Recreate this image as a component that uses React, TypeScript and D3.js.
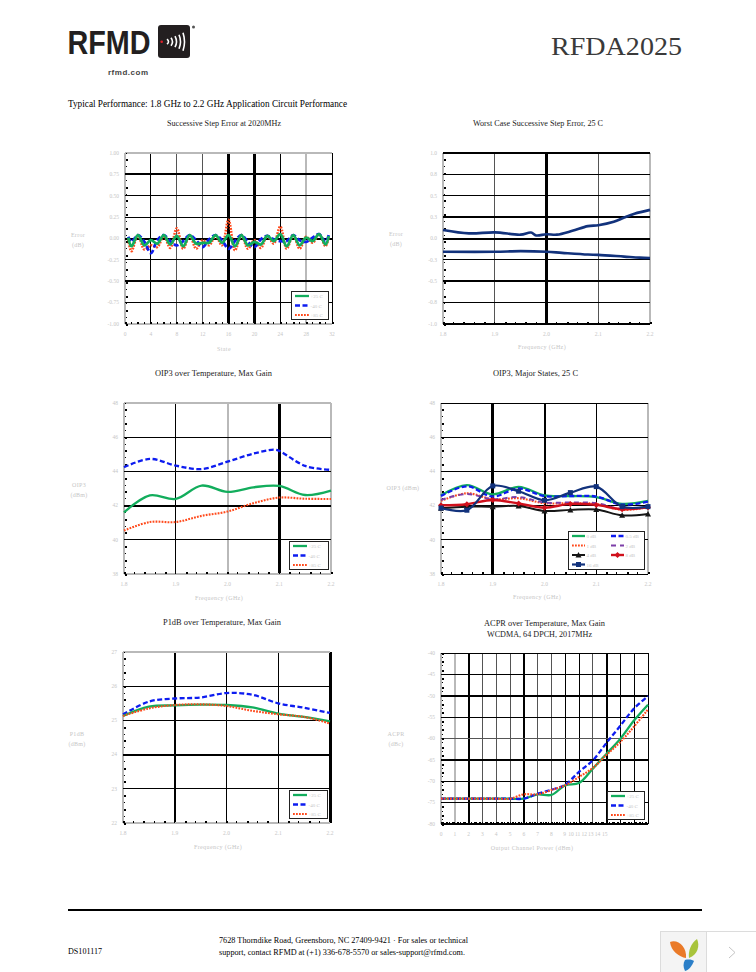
import React from "react";
import * as d3 from "d3";

// ---------- Chart 1: Successive Step Error at 2020MHz ----------
const stateX = [0.5, 1, 2, 3, 4, 5, 6, 7, 8, 9, 10, 11, 12, 13, 14, 15, 16, 17, 18, 19, 20, 21, 22, 23, 24, 25, 26, 27, 28, 29, 30, 31, 31.5];
const step25 = [0.01, -0.09, 0.04, -0.08, -0.02, -0.06, 0.04, -0.07, 0.03, -0.09, 0.04, -0.06, -0.05, -0.05, 0.04, -0.05, 0.04, -0.09, 0.04, -0.08, -0.04, -0.07, 0.03, -0.03, 0.05, -0.09, 0.04, -0.08, 0.01, -0.03, 0.05, -0.07, 0.03];
const stepM40 = [0.02, -0.04, 0.04, -0.04, -0.17, -0.02, 0.04, -0.03, -0.08, -0.03, 0.04, -0.02, -0.1, -0.01, 0.04, -0.02, -0.12, -0.03, 0.04, -0.04, -0.1, -0.01, 0.03, -0.01, -0.03, -0.03, 0.04, -0.02, -0.04, 0.01, 0.05, -0.04, 0.04];
const step85 = [-0.01, -0.15, 0.04, -0.13, -0.08, -0.1, 0.03, -0.11, 0.12, -0.12, 0.04, -0.12, -0.02, -0.08, 0.03, -0.08, 0.22, -0.14, 0.04, -0.12, -0.02, -0.11, 0.03, -0.06, 0.14, -0.12, 0.04, -0.12, 0.02, -0.05, 0.05, -0.09, 0.02];

// ---------- Chart 2: Worst Case Successive Step Error ----------
const worstHiX = [1.8, 1.85, 1.9, 1.95, 1.97, 1.98, 2.0, 2.02, 2.05, 2.08, 2.1, 2.13, 2.15, 2.17, 2.2];
const worstHi = [0.1, 0.06, 0.072, 0.045, 0.07, 0.036, 0.05, 0.045, 0.09, 0.145, 0.155, 0.195, 0.245, 0.29, 0.335];
const worstLoX = [1.8, 1.9, 1.95, 2.0, 2.03, 2.08, 2.1, 2.15, 2.18, 2.2];
const worstLo = [-0.155, -0.155, -0.148, -0.155, -0.168, -0.188, -0.192, -0.212, -0.224, -0.228];

// ---------- Chart 3: OIP3 over Temperature ----------
const freq9 = [1.8, 1.85, 1.9, 1.95, 2.0, 2.05, 2.1, 2.15, 2.2];
const oipTempX = [1.8, 1.85, 1.9, 1.95, 2.0, 2.05, 2.09, 2.1, 2.15, 2.2];
const oipM40 = [44.24, 44.73, 44.34, 44.14, 44.57, 45.04, 45.27, 45.2, 44.32, 44.09];
const oip25 = [41.6, 42.6, 42.39, 43.17, 42.8, 43.07, 43.15, 42.62, 42.88];
const oip85 = [40.54, 41.04, 41.04, 41.4, 41.65, 42.14, 42.47, 42.4, 42.39];

// ---------- Chart 4: OIP3, Major States ----------
const major0 = [42.6, 43.2, 42.66, 43.09, 42.6, 42.56, 42.5, 42.1, 42.27];
const major05 = [42.56, 43.13, 42.53, 43.0, 42.56, 42.56, 42.53, 42.06, 42.23];
const major1 = [42.27, 42.72, 42.37, 42.43, 42.14, 42.14, 42.1, 41.75, 41.9];
const major2 = [42.33, 42.68, 42.37, 42.5, 42.18, 42.18, 42.14, 41.8, 41.9];
const major4 = [41.84, 41.94, 41.94, 41.98, 41.69, 41.75, 41.77, 41.43, 41.51];
const major8 = [42.02, 42.08, 42.33, 42.12, 41.88, 42.1, 42.04, 41.79, 41.9];
const major16 = [41.86, 41.73, 43.15, 42.84, 42.31, 42.76, 43.11, 41.94, 41.94];

// ---------- Chart 5: P1dB over Temperature ----------
const p1M40 = [25.17, 25.55, 25.64, 25.67, 25.8, 25.75, 25.5, 25.37, 25.22];
const p125 = [25.13, 25.4, 25.44, 25.46, 25.45, 25.38, 25.2, 25.1, 24.97];
const p185 = [25.13, 25.35, 25.45, 25.47, 25.42, 25.28, 25.18, 25.1, 24.91];

// ---------- Chart 6: ACPR over Temperature ----------
const powerX = [0, 1, 2, 3, 4, 5, 6, 7, 8, 9, 10, 11, 12, 13, 14, 15];
const acpr25 = [-74.07, -74.07, -74.07, -74.07, -74.07, -74.07, -74.07, -73.06, -73.2, -70.95, -70.4, -67.05, -63.55, -60.04, -55.75, -52.1];
const acprM40 = [-74.07, -74.07, -74.07, -74.07, -74.07, -74.07, -74.07, -72.9, -72, -70.8, -67.8, -65.1, -61, -57, -52.95, -50.1];
const acpr85 = [-74.07, -74.07, -74.07, -74.07, -74.07, -74.07, -73.06, -73.06, -72.05, -70.95, -69, -66.9, -63.8, -60.8, -57.15, -53.2];

// ---------- Tick labels ----------
const stateTicks = [0, 4, 8, 12, 16, 20, 24, 28, 32];
const stepTicks = [1, 0.75, 0.5, 0.25, 0, -0.25, -0.5, -0.75, -1];
const freqTicks = [1.8, 1.9, 2.0, 2.1, 2.2];
const oipTicks = [48, 46, 44, 42, 40, 38];
const p1Ticks = [27, 26, 25, 24, 23, 22];
const acprTicks = [-40, -45, -50, -55, -60, -65, -70, -75, -80];
const powerLabels = ["0", "1", "2", "3", "4", "5", "6", "7", "8", "9", "10", "11", "12", "13", "14", "15"];
const powerLabelAt = [0, 1, 2, 3, 4, 5, 6, 7, 8, 8.95, 9.42, 9.9, 10.38, 10.86, 11.34, 11.86];

const GREEN = "#12ad5c";
const BLUE = "#0d1cf0";
const RED = "#ff4a1c";
const NAVY = "#12327c";
const TXT = "#c6c6c6";
const FONT = "'Liberation Serif', serif";

const styles: any = {
  green: { stroke: GREEN, w: 2.3 },
  blue: { stroke: BLUE, w: 2.3, dash: "5 2.5" },
  red: { stroke: RED, w: 2.1, dash: "1.8 1.2" },
  purple: { stroke: "#7d3fa8", w: 2, dash: "5 4" },
  black: { stroke: "#161616", w: 2, marker: "tri" },
  crimson: { stroke: "#d0101c", w: 2.4, marker: "dia" },
  navy: { stroke: NAVY, w: 2.2, marker: "sq" },
  navyPlain: { stroke: NAVY, w: 2.6 },
};

// grid weights: b=black 1, B=black 2, T=black 3, d=dark grey, g=light grey
const weight: any = {
  b: { c: "#000", w: 1 },
  B: { c: "#000", w: 2 },
  T: { c: "#000", w: 3 },
  d: { c: "#555", w: 1 },
  g: { c: "#b9b9b9", w: 2 },
};

function Marker({ kind, x, y, color }: any) {
  if (kind === "tri") return <path d={`M${x - 3},${y + 2.5}L${x},${y - 3}L${x + 3},${y + 2.5}Z`} fill={color} />;
  if (kind === "dia") return <path d={`M${x - 3},${y}L${x},${y - 3}L${x + 3},${y}L${x},${y + 3}Z`} fill={color} />;
  if (kind === "sq") return <rect x={x - 2.5} y={y - 2.5} width={5} height={5} fill={color} />;
  return null;
}

function Chart({ box, xDomain, yDomain, xTicks, yTicks, xFmt, yFmt, xGrid, yGrid, series, curve, legend, xMinor, yMinor, xTickLabels, xTitle, xTitlePos, yTitle, titles, lineScale = 1 }: any) {
  const [l, t, r, b] = box;
  const x = d3.scaleLinear().domain(xDomain).range([l, r]);
  const y = d3.scaleLinear().domain(yDomain).range([b, t]);
  const ln = (xs: number[]) =>
    d3
      .line<number>()
      .x((_, i) => x(xs[i]))
      .y((d) => y(d))
      .curve(curve);
  const xMinorVals = d3.range(xMinor + 1).map((i) => xDomain[0] + ((xDomain[1] - xDomain[0]) * i) / xMinor);
  const yMinorVals = d3.range(yMinor + 1).map((i) => yDomain[0] + ((yDomain[1] - yDomain[0]) * i) / yMinor);
  return (
    <g fontFamily={FONT}>
      {titles.map((s: any, i: number) => (
        <text key={i} x={s.x} y={s.y} textLength={s.w} lengthAdjust="spacingAndGlyphs" fontSize={7.5} fill="#222">
          {s.t}
        </text>
      ))}
      {xTicks.map((v: number, i: number) => {
        const g = weight[xGrid[i]];
        return <line key={i} x1={x(v)} x2={x(v)} y1={t} y2={b} stroke={g.c} strokeWidth={g.w} shapeRendering="crispEdges" />;
      })}
      {yTicks.map((v: number, i: number) => {
        const g = weight[yGrid[i]];
        return <line key={i} x1={l} x2={r} y1={y(v)} y2={y(v)} stroke={g.c} strokeWidth={g.w} shapeRendering="crispEdges" />;
      })}
      {yMinorVals.map((v: number, i: number) => (
        <rect key={i} x={l + 1} y={y(v) - 0.5} width={i % 2 ? 1 : 2} height={i % 2 ? 1 : 2} fill="#000" shapeRendering="crispEdges" />
      ))}
      {xMinorVals.map((v: number, i: number) => (
        <rect key={i} x={x(v) - 0.5} y={b - 2} width={i % 2 ? 1 : 2} height={1.5} fill="#000" shapeRendering="crispEdges" />
      ))}
      {series.map((s: any, i: number) => {
        const st = styles[s.style];
        return (
          <g key={i}>
            <path d={ln(s.x)(s.y) as string} fill="none" stroke={st.stroke} strokeWidth={st.w * lineScale} strokeDasharray={st.dash} />
            {st.marker && s.y.map((v: number, k: number) => <Marker key={k} kind={st.marker} x={x(s.x[k])} y={y(v)} color={st.stroke} />)}
          </g>
        );
      })}
      {yTicks.map((v: number, i: number) => (
        <text key={i} x={l - 6} y={y(v) + 1.8} textAnchor="end" fontSize={5.5} fill={TXT}>
          {yFmt(v)}
        </text>
      ))}
      {(xTickLabels || xTicks.map((v: number) => ({ at: v, s: xFmt(v) }))).map((d: any, i: number) => (
        <text key={i} x={x(d.at)} y={b + 12} textAnchor="middle" fontSize={5.5} fill={TXT}>
          {d.s}
        </text>
      ))}
      <text x={xTitlePos[0]} y={xTitlePos[1]} textAnchor="middle" fontSize={6} letterSpacing={0.4} fill={TXT}>
        {xTitle}
      </text>
      {yTitle.map((s: any, i: number) => (
        <text key={i} x={s.x} y={s.y} textAnchor="middle" fontSize={6} letterSpacing={0.3} fill={TXT}>
          {s.t}
        </text>
      ))}
      {legend && (
        <g>
          <rect x={legend.box[0]} y={legend.box[1]} width={legend.box[2]} height={legend.box[3]} fill="#fff" stroke="#222" strokeWidth={1} shapeRendering="crispEdges" />
          {legend.items.map((it: any, i: number) => {
            const st = styles[it.style];
            const lx = legend.box[0] + 4 + (it.col || 0) * legend.colW;
            const ly = legend.box[1] + it.row * legend.rowH + legend.rowTop;
            const sw = legend.swatch;
            return (
              <g key={i}>
                <line x1={lx} x2={lx + sw} y1={ly} y2={ly} stroke={st.stroke} strokeWidth={st.w} strokeDasharray={st.dash} />
                {st.marker && <Marker kind={st.marker} x={lx + sw / 2} y={ly} color={st.stroke} />}
                <text x={lx + sw + 1.5} y={ly + 2} fontSize={5} fill={TXT}>
                  {it.label}
                </text>
              </g>
            );
          })}
        </g>
      )}
    </g>
  );
}

const tempLegend = [
  { style: "green", label: "+25 C", row: 0 },
  { style: "blue", label: "-40 C", row: 1 },
  { style: "red", label: "+85 C", row: 2 },
];
const f1 = (v: number) => v.toFixed(1);
const f2 = (v: number) => v.toFixed(2);
const f0 = (v: number) => String(v);
const smooth = d3.curveCatmullRom.alpha(0.5);
const logoArcs = [
  { x: 167, s: 2.5 },
  { x: 171, s: 4 },
  { x: 175, s: 5.5 },
  { x: 179, s: 7 },
  { x: 183, s: 9 },
];

export default function App() {
  const tempCommon = { colW: 0, rowH: 9.5, rowTop: 5, swatch: 14 };
  return (
    <svg width={756} height={972} viewBox="0 0 756 972" style={{ position: "absolute", left: 0, top: 0, display: "block", background: "#fff" }}>
      {/* header */}
      <text x={67.5} y={54} fontFamily="'Liberation Sans', sans-serif" fontWeight={700} fontSize={33} textLength={83} lengthAdjust="spacingAndGlyphs" fill="#231f20">
        RFMD
      </text>
      <rect x={158} y={25} width={32} height={33} rx={3} fill="#231f20" />
      <circle cx={161.7} cy={41.7} r={1.3} fill="#e0202a" />
      {logoArcs.map((a, i) => (
        <path key={i} d={`M${a.x},${41.7 - a.s}Q${a.x + 3},41.7 ${a.x},${41.7 + a.s}`} fill="none" stroke="#fff" strokeWidth={1.6} />
      ))}
      <circle cx={193.5} cy={27} r={1.5} fill="#555" />
      <text x={108} y={75} fontFamily="'Liberation Sans', sans-serif" fontWeight={700} fontSize={8} textLength={40} lengthAdjust="spacing" fill="#444">
        rfmd.com
      </text>
      <text x={551} y={55} fontFamily={FONT} fontSize={26} textLength={131} lengthAdjust="spacingAndGlyphs" fill="#3a3a3a">
        RFDA2025
      </text>
      <text x={68} y={107} fontFamily={FONT} fontSize={9.5} textLength={279} lengthAdjust="spacingAndGlyphs" fill="#000">
        Typical Performance: 1.8 GHz to 2.2 GHz Application Circuit Performance
      </text>

      <Chart
        box={[125, 153, 332, 324]}
        xDomain={[0, 32]}
        yDomain={[-1, 1]}
        xTicks={stateTicks}
        yTicks={stepTicks}
        xFmt={f0}
        yFmt={f2}
        xGrid={["g", "b", "d", "d", "T", "T", "b", "g", "b"]}
        yGrid={["g", "B", "b", "b", "B", "b", "B", "b", "g"]}
        series={[
          { x: stateX, y: step85, style: "red" },
          { x: stateX, y: stepM40, style: "blue" },
          { x: stateX, y: step25, style: "green" },
        ]}
        curve={smooth}
        lineScale={1.2}
        xMinor={32}
        yMinor={25}
        xTitle="State"
        xTitlePos={[224, 351]}
        yTitle={[{ x: 78, y: 237, t: "Error" }, { x: 78, y: 247, t: "(dB)" }]}
        titles={[{ x: 167, y: 126, w: 114, t: "Successive Step Error at 2020MHz" }]}
        legend={{ box: [291, 291, 37, 28], items: tempLegend, ...tempCommon }}
      />
      <Chart
        box={[443, 153, 650, 324]}
        xDomain={[1.8, 2.2]}
        yDomain={[-1, 1]}
        xTicks={freqTicks}
        yTicks={stepTicks}
        xFmt={f1}
        yFmt={f1}
        xGrid={["g", "d", "T", "d", "g"]}
        yGrid={["B", "b", "b", "B", "B", "b", "B", "b", "B"]}
        series={[
          { x: worstHiX, y: worstHi, style: "navyPlain" },
          { x: worstLoX, y: worstLo, style: "navyPlain" },
        ]}
        curve={smooth}
        xMinor={20}
        yMinor={25}
        xTitle="Frequency (GHz)"
        xTitlePos={[542, 349]}
        yTitle={[{ x: 396, y: 236, t: "Error" }, { x: 396, y: 246, t: "(dB)" }]}
        titles={[{ x: 473, y: 126, w: 130, t: "Worst Case Successive Step Error, 25 C" }]}
      />
      <Chart
        box={[124, 403, 331, 574]}
        xDomain={[1.8, 2.2]}
        yDomain={[38, 48]}
        xTicks={freqTicks}
        yTicks={oipTicks}
        xFmt={f1}
        yFmt={f0}
        xGrid={["g", "b", "g", "T", "g"]}
        yGrid={["g", "b", "b", "B", "b", "g"]}
        series={[
          { x: oipTempX, y: oipM40, style: "blue" },
          { x: freq9, y: oip25, style: "green" },
          { x: freq9, y: oip85, style: "red" },
        ]}
        curve={smooth}
        xMinor={20}
        yMinor={25}
        xTitle="Frequency (GHz)"
        xTitlePos={[219, 600]}
        yTitle={[{ x: 79, y: 487, t: "OIP3" }, { x: 79, y: 497, t: "(dBm)" }]}
        titles={[{ x: 155, y: 376, w: 117, t: "OIP3 over Temperature, Max Gain" }]}
        legend={{ box: [289, 541, 39, 28], items: tempLegend, ...tempCommon }}
      />
      <Chart
        box={[441, 403, 648, 574]}
        xDomain={[1.8, 2.2]}
        yDomain={[38, 48]}
        xTicks={freqTicks}
        yTicks={oipTicks}
        xFmt={f1}
        yFmt={f0}
        xGrid={["g", "T", "B", "b", "g"]}
        yGrid={["b", "b", "b", "b", "b", "b"]}
        series={[
          { x: freq9, y: major0, style: "green" },
          { x: freq9, y: major05, style: "blue" },
          { x: freq9, y: major1, style: "red" },
          { x: freq9, y: major2, style: "purple" },
          { x: freq9, y: major4, style: "black" },
          { x: freq9, y: major8, style: "crimson" },
          { x: freq9, y: major16, style: "navy" },
        ]}
        curve={smooth}
        xMinor={20}
        yMinor={25}
        xTitle="Frequency (GHz)"
        xTitlePos={[537, 599]}
        yTitle={[{ x: 403, y: 490, t: "OIP3 (dBm)" }]}
        titles={[{ x: 493, y: 376, w: 85, t: "OIP3, Major States, 25 C" }]}
        legend={{
          box: [568, 531, 76, 38],
          colW: 39,
          rowH: 9.5,
          rowTop: 5,
          swatch: 13,
          items: [
            { style: "green", label: "0 dB", row: 0, col: 0 },
            { style: "blue", label: "0.5 dB", row: 0, col: 1 },
            { style: "red", label: "1 dB", row: 1, col: 0 },
            { style: "purple", label: "2 dB", row: 1, col: 1 },
            { style: "black", label: "4 dB", row: 2, col: 0 },
            { style: "crimson", label: "8 dB", row: 2, col: 1 },
            { style: "navy", label: "16 dB", row: 3, col: 0 },
          ],
        }}
      />
      <Chart
        box={[123, 652, 330, 823]}
        xDomain={[1.8, 2.2]}
        yDomain={[22, 27]}
        xTicks={freqTicks}
        yTicks={p1Ticks}
        xFmt={f1}
        yFmt={f0}
        xGrid={["g", "B", "b", "b", "T"]}
        yGrid={["g", "b", "b", "B", "b", "g"]}
        series={[
          { x: freq9, y: p1M40, style: "blue" },
          { x: freq9, y: p125, style: "green" },
          { x: freq9, y: p185, style: "red" },
        ]}
        curve={smooth}
        xMinor={20}
        yMinor={25}
        xTitle="Frequency (GHz)"
        xTitlePos={[218, 849]}
        yTitle={[{ x: 77, y: 736, t: "P1dB" }, { x: 77, y: 746, t: "(dBm)" }]}
        titles={[{ x: 163, y: 625, w: 118, t: "P1dB over Temperature, Max Gain" }]}
        legend={{ box: [289, 790, 38, 28], items: tempLegend, ...tempCommon }}
      />
      <Chart
        box={[441, 653, 648, 824]}
        xDomain={[0, 15]}
        yDomain={[-80, -40]}
        xTicks={powerX}
        yTicks={acprTicks}
        xFmt={f0}
        yFmt={f0}
        xGrid={["g", "g", "B", "d", "d", "d", "B", "d", "d", "b", "b", "d", "B", "b", "b", "b"]}
        yGrid={["b", "b", "B", "b", "d", "B", "b", "b", "B"]}
        series={[
          { x: powerX, y: acpr25, style: "green" },
          { x: powerX, y: acprM40, style: "blue" },
          { x: powerX, y: acpr85, style: "red" },
        ]}
        curve={smooth}
        xMinor={75}
        yMinor={40}
        xTickLabels={powerLabels.map((s, i) => ({ s, at: powerLabelAt[i] }))}
        xTitle="Output Channel Power (dBm)"
        xTitlePos={[532, 850]}
        yTitle={[{ x: 396, y: 736, t: "ACPR" }, { x: 396, y: 746, t: "(dBc)" }]}
        titles={[
          { x: 484, y: 626, w: 121, t: "ACPR over Temperature, Max Gain" },
          { x: 487, y: 637, w: 105, t: "WCDMA, 64 DPCH, 2017MHz" },
        ]}
        legend={{ box: [607, 791, 37, 28], items: tempLegend, ...tempCommon }}
      />

      {/* footer */}
      <rect x={68} y={909} width={634} height={2} fill="#000" />
      <g fontFamily={FONT} fontSize={8.5} fill="#000">
        <text x={68} y={954} textLength={34} lengthAdjust="spacingAndGlyphs">DS101117</text>
        <text x={219} y={943} textLength={249} lengthAdjust="spacingAndGlyphs">7628 Thorndike Road, Greensboro, NC  27409-9421 · For sales or technical</text>
        <text x={219} y={955} textLength={246} lengthAdjust="spacingAndGlyphs">support, contact RFMD at (+1) 336-678-5570 or sales-support@rfmd.com.</text>
      </g>
      {/* viewer widget */}
      <rect x={660.5} y={931.5} width={46} height={41} fill="#f4f4f4" stroke="#dcdcdc" />
      <rect x={706.5} y={931.5} width={50} height={41} fill="#fff" stroke="#dcdcdc" />
      <path d="M670,942C678,939 687,947 686,958C679,957 671,951 670,942Z" fill="#ea7a28" />
      <path d="M697,939C700,945 698,955 689,958C688,951 691,943 697,939Z" fill="#a8c43c" />
      <path d="M685,960C689,959 693,960 694,961C692,966 689,970 685,971C683,967 683,963 685,960Z" fill="#2b7fc8" />
      <path d="M729,947L735,952.5L729,958" fill="none" stroke="#c4c4c4" strokeWidth={1} />
    </svg>
  );
}
